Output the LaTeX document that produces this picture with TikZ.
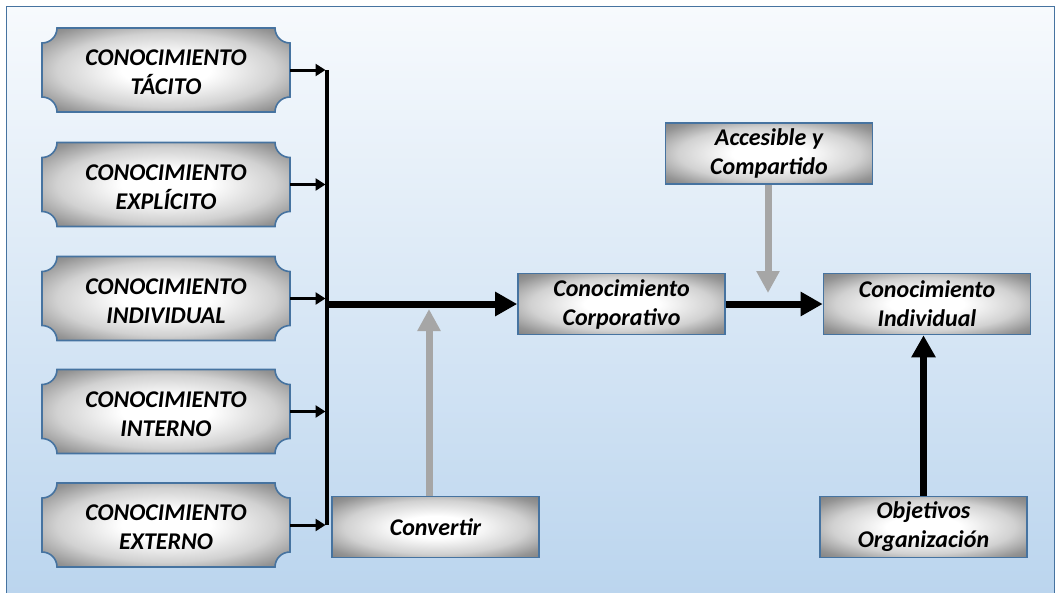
\documentclass[tikz,border=0pt]{standalone}
\usepackage{fontspec}
\setmainfont{Carlito}
\usetikzlibrary{arrows.meta}

\definecolor{frametop}{RGB}{247,250,253}
\definecolor{framebot}{RGB}{187,213,238}
\definecolor{edgeblue}{RGB}{70,115,160}
\definecolor{arrowgray}{RGB}{166,166,166}

% white centre fading to grey towards the edges of each box
\pgfdeclareradialshading{boxshade}{\pgfpoint{0bp}{0bp}}{%
  color(0bp)=(white); color(9bp)=(white); color(22bp)=(black!18);
  color(31bp)=(black!42); color(36bp)=(black!50); color(50bp)=(black!55)}

\tikzset{
  plaqueshape/.style={shading=boxshade, draw=edgeblue, line width=1.6pt},
  plaquetext/.style={minimum width=248pt, minimum height=84pt, inner sep=0pt,
    align=center, font=\fontsize{24}{29}\selectfont\bfseries\itshape,
    text height=49pt, text depth=0pt},
  rectbox/.style={shading=boxshade, draw=edgeblue, line width=1.6pt,
    minimum width=207pt, minimum height=61pt, inner sep=0pt, align=center,
    font=\fontsize{24}{29}\selectfont\bfseries\itshape},
  thinarrow/.style={line width=3pt, -{Triangle[length=10pt,width=12pt]}},
  busline/.style={line width=3.5pt},
  thickarrow/.style={line width=7pt, -{Triangle[length=22pt,width=23pt]}},
  grayarrow/.style={draw=arrowgray, line width=7pt, -{Triangle[length=22pt,width=22pt]}},
}

% plaque: rectangle with concave quarter-circle corners, then its text node
\newcommand\plaque[4]{%
  \path[plaqueshape, shift={(#2,#3)}]
    (-109,-42) -- (109,-42)
    .. controls (109,-33.7) and (115.7,-27) .. (124,-27) -- (124,27)
    .. controls (115.7,27) and (109,33.7) .. (109,42) -- (-109,42)
    .. controls (-109,33.7) and (-115.7,27) .. (-124,27) -- (-124,-27)
    .. controls (-115.7,-27) and (-109,-33.7) .. (-109,-42) -- cycle;
  \node[plaquetext] (#1) at (#2,#3) {#4};
}

\begin{document}
\begin{tikzpicture}[x=1pt, y=-1pt]
\useasboundingbox (0,0) rectangle (1060,592);

% framed panel with a vertical gradient
\shade[top color=frametop, bottom color=framebot, draw=edgeblue, line width=1.5pt]
  (6.5,6.5) rectangle (1054.5,594);

% knowledge types
\plaque{tac}{166}{70}{CONOCIMIENTO\\TÁCITO}
\plaque{exp}{166}{184.5}{CONOCIMIENTO\\EXPLÍCITO}
\plaque{ind}{166}{298.5}{CONOCIMIENTO\\INDIVIDUAL}
\plaque{int}{166}{411.5}{CONOCIMIENTO\\INTERNO}
\plaque{ext}{166}{525}{CONOCIMIENTO\\EXTERNO}

% process boxes
\node[rectbox] (conv) at (435.5,527) {Convertir};
\node[rectbox] (corp) at (621.5,304) {Conocimiento\\Corporativo};
\node[rectbox] (acc)  at (769,153.5) {Accesible y\\Compartido};
\node[rectbox] (indiv) at (927,304) {Conocimiento\\Individual};
\node[rectbox] (obj)  at (923.5,527) {Objetivos\\Organización};

% collecting bus
\coordinate (bus) at (327,300);
\coordinate (convjoin) at (429,309);
\coordinate (accjoin) at (768,293);

\draw[busline] (bus |- tac.east) -- (bus |- ext.east);
\foreach \n in {tac,exp,ind,int,ext}
  \draw[thinarrow, shorten >=1.5pt] (\n.east) -- (bus |- \n.east);

% grey inputs
\draw[grayarrow] (conv.north -| convjoin) -- (convjoin);
\draw[grayarrow] (acc.south -| accjoin) -- (accjoin);

% main flow
\draw[thickarrow] (bus |- corp.west) -- (corp.west);
\draw[thickarrow] (corp.east) -- (indiv.west);
\draw[thickarrow] (obj.north) -- (obj.north |- indiv.south);
\end{tikzpicture}
\end{document}
